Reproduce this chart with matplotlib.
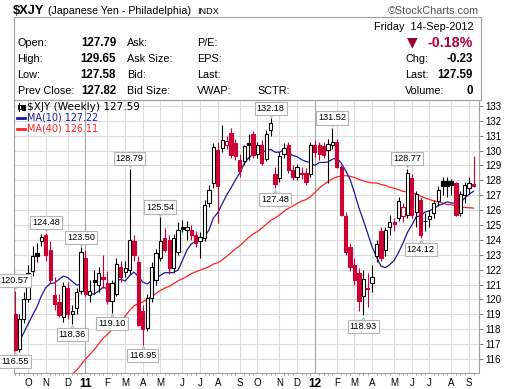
import numpy as np
import pandas as pd
import matplotlib
matplotlib.use("Agg")
import matplotlib.pyplot as plt
from matplotlib.patches import Rectangle
import matplotlib.transforms as mtrans

W, H, DPI = 508, 389, 100

# ---------------- data ----------------
dates = pd.date_range("2010-09-17", periods=105, freq="W-FRI")

opens = [119.0, 116.7, 118.7, 120.0, 121.9, 123.1, 123.9, 124.3, 123.3, 120.3,
         119.8, 118.8, 120.8, 119.0, 119.4, 120.6, 122.8, 120.3, 121.3, 121.0,
         121.5, 121.1, 119.9, 120.4, 122.2, 121.85, 122.0, 123.9, 122.5, 119.2,
         118.1, 120.1, 121.3, 122.8, 124.1, 124.0, 122.1, 123.2, 124.85, 124.7,
         124.7, 124.3, 123.9, 124.1, 126.5, 127.8, 130.05, 130.2, 130.4, 131.2,
         130.5, 129.4, 129.3, 130.5, 131.1, 129.8, 130.4, 129.45, 131.4, 128.4,
         128.15, 129.8, 130.4, 128.7, 128.25, 128.5, 128.5, 128.4, 130.4, 130.4,
         130.3, 130.05, 130.4, 130.6, 128.9, 125.6, 123.5, 122.3, 121.8, 120.2,
         120.75, 121.1, 122.9, 124.6, 123.3, 124.9, 125.2, 125.5, 125.6, 125.7,
         128.15, 125.9, 126.7, 125.25, 125.4, 125.8, 126.6, 127.95, 127.95, 127.95,
         127.8, 125.8, 127.0, 127.5, 127.79]
highs = [120.57, 119.0, 120.5, 122.3, 123.6, 123.8, 124.4, 124.48, 123.9, 121.5,
         120.4, 121.2, 121.2, 119.6, 120.8, 123.5, 123.3, 121.3, 122.0, 122.2,
         123.0, 121.9, 121.3, 122.8, 122.6, 122.6, 128.79, 124.3, 122.9, 119.6,
         120.4, 122.5, 123.4, 125.54, 124.8, 124.3, 124.4, 125.2, 125.35, 125.3,
         125.0, 124.6, 124.5, 126.7, 127.7, 130.5, 130.6, 131.7, 131.0, 131.5,
         130.8, 129.8, 130.4, 131.1, 131.3, 130.6, 130.7, 131.4, 132.18, 128.9,
         129.9, 130.5, 130.6, 129.0, 129.1, 128.9, 128.8, 130.6, 130.7, 130.6,
         130.6, 130.8, 131.52, 130.8, 129.0, 125.9, 123.8, 122.8, 122.1, 122.0,
         121.8, 122.3, 124.0, 124.9, 124.9, 125.7, 125.5, 126.9, 126.5, 128.77,
         128.4, 127.3, 126.9, 125.8, 126.0, 126.7, 127.6, 128.2, 128.2, 128.1,
         127.9, 127.3, 127.9, 128.25, 129.65]
lows = [116.55, 116.5, 118.4, 119.8, 121.6, 122.5, 123.6, 122.6, 121.1, 119.3,
        118.8, 118.5, 118.7, 118.36, 119.0, 120.4, 120.2, 119.8, 120.4, 120.5,
        120.8, 119.7, 119.1, 120.2, 121.2, 121.5, 121.7, 122.6, 118.2, 116.95,
        117.9, 119.8, 121.0, 122.6, 123.2, 121.7, 121.8, 123.0, 124.5, 124.0,
        124.0, 123.5, 122.8, 123.9, 126.2, 127.5, 125.13, 129.9, 130.1, 129.5,
        129.4, 128.2, 129.0, 129.4, 129.5, 129.5, 129.0, 129.3, 131.0, 127.48,
        127.9, 129.5, 128.5, 128.0, 128.0, 128.1, 127.7, 128.2, 129.6, 129.4,
        129.5, 127.8, 130.1, 128.8, 125.6, 123.0, 121.9, 121.0, 119.2, 118.93,
        119.5, 120.5, 122.55, 122.6, 122.9, 124.3, 124.6, 125.3, 125.2, 125.5,
        125.5, 124.9, 124.12, 124.6, 124.9, 125.5, 126.3, 127.0, 126.9, 127.0,
        125.6, 125.6, 126.5, 127.1, 127.58]
closes = [116.6, 118.7, 120.0, 121.8, 122.9, 122.95, 124.2, 123.0, 121.3, 119.7,
          118.95, 120.9, 119.0, 119.2, 120.5, 123.2, 120.4, 120.6, 121.2, 121.8,
          121.4, 119.9, 121.1, 122.4, 121.5, 122.1, 124.0, 123.0, 118.3, 118.0,
          120.1, 122.2, 123.1, 123.9, 123.3, 122.1, 124.1, 124.7, 124.75, 124.9,
          124.3, 123.8, 124.2, 126.35, 127.35, 130.25, 127.6, 130.7, 130.65, 129.7,
          129.65, 128.6, 130.3, 130.4, 129.7, 130.4, 129.15, 131.1, 131.88, 127.75,
          129.65, 130.15, 128.7, 128.25, 128.9, 128.4, 127.9, 130.4, 129.9, 129.76,
          129.7, 130.43, 130.6, 128.9, 125.7, 123.2, 122.2, 121.3, 119.9, 121.4,
          120.7, 121.5, 123.7, 122.8, 124.7, 125.2, 125.05, 126.6, 126.2, 128.5,
          125.7, 127.1, 124.35, 125.3, 125.6, 126.45, 127.35, 127.6, 127.65, 127.7,
          125.7, 127.1, 127.7, 127.82, 127.59]
# weekly closes before the visible window (feed the moving averages)
prior_closes = [110.6, 109.4, 107.5, 108.0, 110.3, 111.2, 110.7, 112.1, 111.2, 109.3,
                112.4, 111.0, 110.5, 110.5, 108.1, 105.7, 107.6, 108.6, 106.5, 106.4,
                109.2, 108.0, 111.2, 109.8, 108.8, 109.2, 110.3, 112.0, 114.0, 112.6,
                115.5, 114.3, 115.7, 117.1, 117.4, 116.8, 117.4, 118.6, 119.2]
price_ticks = list(range(116, 134))
high_labels = [0, 7, 15, 26, 33, 58, 72, 89]
low_labels = [0, 13, 22, 29, 59, 79, 92]

# ---------------- figure ----------------
fig = plt.figure(figsize=(W / DPI, H / DPI), dpi=DPI)
fig.patch.set_facecolor("white")
SANS = ["Liberation Sans", "DejaVu Sans"]
VER = ["DejaVu Sans"]


def fx(x):
    return x / W


def fy(y):
    return 1 - y / H


L, R, T, B = 14, 479, 100, 373
ax = fig.add_axes([fx(L), fy(B), (R - L) / W, (B - T) / H])
n = len(closes)
ax.set_xlim(-0.2, 105.24)
ax.set_ylim(115.06, 133.40)

RED = "#cc0033"
GRID = "#dcdcdc"

# grid
for v in price_ticks:
    ax.axhline(v, color=GRID, lw=0.8, zorder=0)
mondays = dates - pd.Timedelta(days=4)
month_idx = [i for i in range(1, n) if mondays[i].month != mondays[i - 1].month]
for i in month_idx:
    col = "#a8a8a8" if mondays[i].month == 1 else GRID
    ax.axvline(i, color=col, lw=0.8, zorder=0)

# moving averages
allc = pd.Series(prior_closes + closes)
ma10 = allc.rolling(10).mean().values[len(prior_closes):]
ma40 = allc.rolling(40).mean().values[len(prior_closes):]
xs = np.arange(n)
ax.plot(xs, ma40, color="#ff2222", lw=0.9, zorder=2)
ax.plot(xs, ma10, color="#1a1a9a", lw=0.9, zorder=2)

# candles
prevs = [prior_closes[-1]] + closes[:-1]
for i in range(n):
    o, h, l, c = opens[i], highs[i], lows[i], closes[i]
    col = "black" if c >= prevs[i] else RED
    hollow = c > o
    ax.vlines(i, l, h, color=col, lw=0.8, zorder=3)
    bot = min(o, c)
    hh = max(abs(c - o), 0.05)
    ax.add_patch(Rectangle((i - 0.37, bot), 0.74, hh,
                           facecolor="white" if hollow else col,
                           edgecolor=col, lw=0.8, zorder=4))


# swing labels
def swing(i, val, above):
    off = 10 if above else -11
    tb = mtrans.offset_copy(ax.transData, fig=fig, x=0, y=off, units="dots")
    ax.text(i, val, f"{val:.2f}", transform=tb, ha="center", va="center",
            fontsize=6.6, family=SANS,
            bbox=dict(boxstyle="square,pad=0.22", fc="white", ec="#b4b4b4", lw=0.8),
            zorder=10, clip_on=False)
    toff = 4.5 if above else -4.5
    tt = mtrans.offset_copy(ax.transData, fig=fig, x=0, y=toff, units="dots")
    ax.plot([i], [val], marker="v" if above else "^", ms=4.5, mfc="white",
            mec="#b4b4b4", mew=0.8, transform=tt, zorder=9, clip_on=False)


for i in high_labels:
    swing(i, highs[i], True)
for i in low_labels:
    swing(i, lows[i], False)

# axes styling
ax.set_yticks(price_ticks)
ax.set_yticklabels([str(v) for v in price_ticks], family=SANS)
ax.yaxis.tick_right()
ax.tick_params(axis="y", length=3, width=0.7, color="#808080", pad=1.5,
               labelsize=7)
ax.set_xticks(month_idx)
labs = []
for i in month_idx:
    d = mondays[i]
    labs.append(f"{d.year % 100:02d}" if d.month == 1 else d.strftime("%b")[0])
ax.set_xticklabels(labs, family=SANS)
ax.tick_params(axis="x", length=0, pad=3.5, labelsize=7)
for i, t in zip(month_idx, ax.get_xticklabels()):
    if mondays[i].month == 1:
        t.set_fontweight("bold")
        t.set_fontsize(8.5)
ax.set_xticks(xs, minor=True)
ax.tick_params(axis="x", which="minor", length=1.5, width=0.6, color="#909090")
for s in ax.spines.values():
    s.set_color("#a0a0a0")
    s.set_linewidth(0.8)

# legend inside plot
fig.text(fx(27), fy(106.5), "$XJY (Weekly) 127.59", fontsize=7.6, family=VER,
         va="center", ha="left", color="black")
fig.text(fx(27), fy(117.5), "MA(10) 127.22", fontsize=6.9, family=VER,
         va="center", ha="left", color="#1a1a9a")
fig.text(fx(27), fy(128.5), "MA(40) 126.11", fontsize=6.9, family=VER,
         va="center", ha="left", color="#ff2222")
fig.add_artist(plt.Line2D([fx(17), fx(25)], [fy(117.5), fy(117.5)],
                          color="#1a1a9a", lw=2, transform=fig.transFigure))
fig.add_artist(plt.Line2D([fx(17), fx(25)], [fy(128.5), fy(128.5)],
                          color="#ff2222", lw=2, transform=fig.transFigure))
# tiny candle icon
fig.add_artist(plt.Line2D([fx(19), fx(19)], [fy(103), fy(111)], color="black",
                          lw=0.7, transform=fig.transFigure))
fig.add_artist(Rectangle((fx(17.5), fy(109)), fx(3), 4 / H, facecolor="white",
                         edgecolor="black", lw=0.7, transform=fig.transFigure))
fig.add_artist(Rectangle((fx(22), fy(109.5)), fx(2.5), 5 / H, facecolor="black",
                         edgecolor="black", lw=0.7, transform=fig.transFigure))

# ---------------- header ----------------
fig.add_artist(Rectangle((fx(14), fy(100)), (481 - 14) / W, 83 / H,
                         facecolor="none", edgecolor="#a0a0a0", lw=0.8,
                         transform=fig.transFigure))
fig.text(fx(13), fy(11.5), "$XJY", fontsize=9.3, fontweight="bold",
         family=SANS, va="center", ha="left")
fig.text(fx(47.5), fy(11.5), "(Japanese Yen - Philadelphia)", fontsize=7.7,
         family=SANS, va="center", ha="left")
fig.text(fx(197), fy(11.5), "INDX", fontsize=6.6, family=SANS, va="center",
         ha="left")
fig.text(fx(479), fy(11), "\u00a9StockCharts.com", fontsize=7.8, family=SANS,
         va="center", ha="right", color="#555555")
fig.text(fx(473), fy(27), "Friday  14-Sep-2012", fontsize=7.8, family=SANS,
         va="center", ha="right")

rows_y = [42.7, 59.3, 75, 90.7]
col1 = ["Open:", "High:", "Low:", "Prev Close:"]
col1v = ["127.79", "129.65", "127.58", "127.82"]
col2 = ["Ask:", "Ask Size:", "Bid:", "Bid Size:"]
col3 = ["P/E:", "EPS:", "Last:", "VWAP:"]
for y, a, v, b, c in zip(rows_y, col1, col1v, col2, col3):
    fig.text(fx(17.5), fy(y), a, fontsize=7.8, family=SANS, va="center")
    fig.text(fx(116), fy(y), v, fontsize=8.3, fontweight="bold", family=SANS,
             va="center", ha="right")
    fig.text(fx(127), fy(y), b, fontsize=7.8, family=SANS, va="center")
    fig.text(fx(197), fy(y), c, fontsize=7.8, family=SANS, va="center")
fig.text(fx(257), fy(90.7), "SCTR:", fontsize=7.8, family=SANS, va="center")

fig.text(fx(407), fy(42.7), "\u25bc", fontsize=10, family=["DejaVu Sans"],
         va="center", ha="left", color="#990033")
fig.text(fx(473), fy(42.7), "-0.18%", fontsize=10.3, fontweight="bold",
         family=SANS, va="center", ha="right", color="#b0003a")
right_l = ["Chg:", "Last:", "Volume:"]
right_v = ["-0.23", "127.59", "0"]
for y, a, v in zip(rows_y[1:], right_l, right_v):
    fig.text(fx(405), fy(y), a, fontsize=7.8, family=SANS, va="center")
    fig.text(fx(473), fy(y), v, fontsize=8.3, fontweight="bold", family=SANS,
             va="center", ha="right")

fig.savefig("out.png", dpi=DPI, facecolor="white")
